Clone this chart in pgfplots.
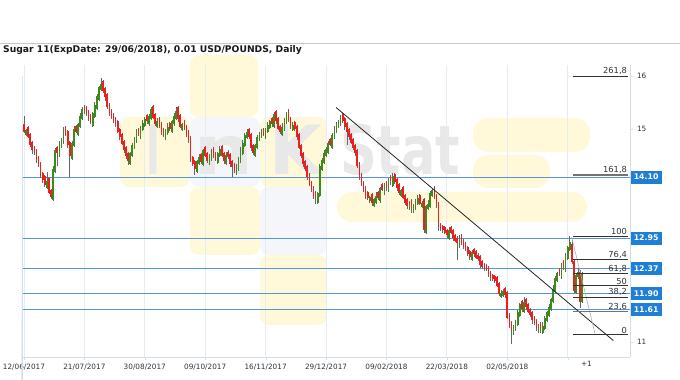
\documentclass[border=0pt]{standalone}
\usepackage{pgfplots}
\pgfplotsset{compat=1.18}
\usepackage{pgfplotstable}
\usepackage{fontspec}
\setmainfont{DejaVu Sans}
\definecolor{upc}{HTML}{3A8C1A}
\definecolor{dnc}{HTML}{F21C1C}
\definecolor{wickc}{HTML}{666666}
\definecolor{lvl}{HTML}{5596DA}
\definecolor{boxc}{HTML}{1F7FD6}
\definecolor{gridc}{HTML}{E4EDF5}
\definecolor{axc}{HTML}{D3DEE8}
\definecolor{wmy}{HTML}{FFF9DA}
\definecolor{wmb}{HTML}{F4F6F9}
\definecolor{wmg}{HTML}{E8E8E8}
\definecolor{fibc}{HTML}{333333}
\definecolor{txtc}{HTML}{333333}
\pgfplotstableread{
i o h l c
0 15.10 15.25 14.92 14.95
1 14.89 15.00 14.87 14.98
2 15.04 15.06 14.83 14.85
3 14.91 14.93 14.66 14.70
4 14.76 14.78 14.54 14.60
5 14.66 14.68 14.52 14.55
6 14.61 14.63 14.37 14.42
7 14.48 14.50 14.28 14.30
8 14.36 14.38 14.08 14.12
9 14.18 14.20 13.99 14.05
10 14.11 14.13 13.92 13.95
11 13.89 14.20 13.87 14.02
12 14.08 14.10 13.78 13.80
13 13.86 13.88 13.68 13.72
14 13.66 14.31 13.64 14.25
15 14.19 14.64 14.17 14.60
16 14.66 14.68 14.30 14.55
17 14.49 14.77 14.47 14.72
18 14.66 14.83 14.64 14.80
19 14.74 15.04 14.72 14.98
20 15.04 15.06 14.87 14.90
21 14.96 14.98 14.65 14.70
22 14.76 14.78 14.10 14.50
23 14.44 14.78 14.42 14.75
24 14.69 15.06 14.67 15.00
25 15.06 15.08 14.92 14.95
26 14.89 15.12 14.87 15.10
27 15.04 15.30 15.02 15.25
28 15.19 15.41 15.17 15.38
29 15.44 15.46 15.29 15.35
30 15.41 15.43 15.25 15.28
31 15.34 15.36 15.15 15.20
32 15.26 15.28 15.10 15.12
33 15.06 15.33 15.04 15.30
34 15.24 15.51 15.22 15.45
35 15.39 15.66 15.37 15.62
36 15.56 15.82 15.54 15.80
37 15.74 15.96 15.72 15.85
38 15.91 15.93 15.68 15.72
39 15.78 15.80 15.54 15.60
40 15.66 15.68 15.39 15.42
41 15.48 15.50 15.25 15.30
42 15.36 15.38 15.20 15.22
43 15.28 15.30 15.11 15.15
44 15.21 15.23 15.04 15.10
45 15.16 15.18 14.92 14.95
46 15.01 15.03 14.80 14.85
47 14.91 14.93 14.70 14.72
48 14.78 14.80 14.56 14.60
49 14.66 14.68 14.44 14.50
50 14.56 14.58 14.32 14.40
51 14.34 14.57 14.32 14.55
52 14.49 14.75 14.47 14.70
53 14.64 14.85 14.62 14.82
54 14.76 15.01 14.74 14.95
55 15.01 15.03 14.87 14.90
56 14.84 15.07 14.82 15.05
57 14.99 15.17 14.97 15.12
58 15.06 15.23 15.04 15.20
59 15.26 15.28 15.09 15.15
60 15.09 15.29 15.07 15.25
61 15.19 15.42 15.17 15.38
62 15.44 15.46 15.20 15.22
63 15.28 15.30 15.06 15.10
64 15.04 15.21 15.02 15.15
65 15.21 15.23 15.02 15.05
66 15.11 15.13 14.90 14.95
67 15.01 15.03 14.86 14.88
68 14.82 15.01 14.80 14.98
69 14.92 15.11 14.90 15.05
70 15.11 15.13 14.97 15.00
71 14.94 15.17 14.92 15.15
72 15.09 15.30 15.07 15.25
73 15.19 15.42 15.17 15.35
74 15.41 15.43 15.14 15.20
75 15.26 15.28 15.02 15.05
76 14.99 15.12 14.97 15.10
77 15.16 15.18 14.98 15.00
78 15.06 15.08 14.86 14.90
79 14.96 14.98 14.74 14.80
80 14.86 14.88 14.39 14.42
81 14.48 14.50 14.30 14.35
82 14.41 14.43 14.13 14.25
83 14.19 14.43 14.17 14.40
84 14.34 14.54 14.32 14.48
85 14.54 14.56 14.35 14.38
86 14.32 14.62 14.30 14.60
87 14.66 14.68 14.48 14.50
88 14.56 14.58 14.36 14.40
89 14.34 14.54 14.32 14.48
90 14.42 14.62 14.40 14.58
91 14.64 14.66 14.45 14.50
92 14.56 14.58 14.40 14.42
93 14.36 14.58 14.34 14.55
94 14.49 14.68 14.47 14.62
95 14.68 14.70 14.47 14.50
96 14.56 14.58 14.35 14.40
97 14.34 14.57 14.32 14.52
98 14.58 14.60 14.44 14.48
99 14.54 14.56 14.29 14.35
100 14.41 14.43 14.10 14.28
101 14.34 14.36 14.17 14.22
102 14.16 14.35 14.14 14.30
103 14.24 14.48 14.22 14.45
104 14.39 14.66 14.37 14.60
105 14.54 14.79 14.52 14.75
106 14.69 14.92 14.67 14.90
107 14.84 15.00 14.82 14.95
108 15.01 15.03 14.81 14.85
109 14.91 14.93 14.59 14.65
110 14.71 14.73 14.52 14.55
111 14.49 14.72 14.47 14.70
112 14.64 14.90 14.62 14.85
113 14.79 14.95 14.77 14.92
114 14.86 15.01 14.84 14.95
115 15.01 15.03 14.87 14.90
116 14.84 15.02 14.82 15.00
117 14.94 15.13 14.92 15.08
118 15.02 15.18 15.00 15.15
119 15.21 15.23 15.04 15.10
120 15.04 15.32 15.02 15.28
121 15.34 15.36 15.10 15.15
122 15.21 15.23 14.98 15.00
123 15.06 15.08 14.91 14.95
124 14.89 15.11 14.87 15.05
125 14.99 15.22 14.97 15.18
126 15.12 15.33 15.10 15.30
127 15.36 15.38 15.13 15.15
128 15.21 15.23 15.01 15.05
129 14.99 15.14 14.97 15.08
130 15.14 15.16 14.97 15.00
131 15.06 15.08 14.80 14.85
132 14.91 14.93 14.63 14.65
133 14.71 14.73 14.46 14.50
134 14.56 14.58 14.29 14.35
135 14.41 14.43 14.22 14.25
136 14.31 14.33 14.05 14.10
137 14.16 14.18 13.93 13.95
138 14.01 14.03 13.81 13.85
139 13.91 13.93 13.69 13.75
140 13.81 13.83 13.60 13.68
141 13.62 13.82 13.60 13.80
142 13.74 14.35 13.72 14.30
143 14.24 14.45 14.22 14.42
144 14.36 14.61 14.34 14.55
145 14.49 14.66 14.47 14.62
146 14.56 14.77 14.54 14.75
147 14.81 14.83 14.68 14.70
148 14.64 14.93 14.62 14.90
149 14.84 15.06 14.82 15.00
150 14.94 15.14 14.92 15.10
151 15.04 15.17 15.02 15.15
152 15.09 15.27 15.07 15.22
153 15.28 15.30 15.11 15.15
154 15.21 15.23 14.99 15.05
155 15.11 15.13 14.70 14.95
156 15.01 15.03 14.80 14.85
157 14.91 14.93 14.73 14.75
158 14.81 14.83 14.61 14.65
159 14.71 14.73 14.49 14.55
160 14.61 14.63 14.27 14.30
161 14.36 14.38 14.05 14.10
162 14.16 14.18 13.93 13.95
163 14.01 14.03 13.81 13.85
164 13.91 13.93 13.69 13.75
165 13.81 13.83 13.67 13.70
166 13.64 13.74 13.62 13.72
167 13.78 13.80 13.56 13.62
168 13.56 13.71 13.54 13.68
169 13.62 13.81 13.60 13.75
170 13.81 13.83 13.67 13.70
171 13.64 13.92 13.62 13.90
172 13.96 13.98 13.83 13.85
173 13.79 13.98 13.77 13.95
174 14.01 14.03 13.84 13.90
175 13.84 14.09 13.82 14.05
176 14.11 14.13 13.95 14.00
177 13.94 14.17 13.92 14.12
178 14.16 14.18 13.96 14.00
179 14.06 14.08 13.84 13.90
180 13.96 13.98 13.77 13.80
181 13.74 13.87 13.72 13.85
182 13.91 13.93 13.68 13.70
183 13.76 13.78 13.58 13.62
184 13.68 13.70 13.49 13.55
185 13.49 13.64 13.47 13.60
186 13.66 13.68 13.43 13.50
187 13.44 13.60 13.42 13.55
188 13.49 13.68 13.47 13.65
189 13.59 13.76 13.57 13.70
190 13.76 13.78 13.57 13.60
191 13.54 13.64 13.52 13.62
192 13.68 13.70 13.04 13.10
193 13.04 13.58 13.02 13.55
194 13.49 13.66 13.47 13.60
195 13.54 13.84 13.52 13.80
196 13.74 13.90 13.72 13.85
197 13.91 13.93 13.68 13.70
198 13.76 13.78 13.51 13.55
199 13.61 13.63 13.08 13.15
200 13.21 13.23 13.09 13.12
201 13.18 13.20 13.05 13.10
202 13.16 13.18 13.03 13.05
203 13.11 13.13 12.96 13.00
204 12.94 13.16 12.92 13.10
205 13.16 13.18 13.02 13.05
206 13.11 13.13 12.90 12.95
207 13.01 13.03 12.88 12.90
208 12.96 12.98 12.54 12.85
209 12.79 13.01 12.77 12.95
210 13.01 13.03 12.82 12.85
211 12.91 12.93 12.75 12.80
212 12.86 12.88 12.70 12.72
213 12.78 12.80 12.61 12.65
214 12.71 12.73 12.54 12.60
215 12.54 12.72 12.52 12.68
216 12.74 12.76 12.60 12.65
217 12.71 12.73 12.56 12.58
218 12.64 12.66 12.51 12.55
219 12.61 12.63 12.39 12.45
220 12.51 12.53 12.37 12.40
221 12.46 12.48 12.33 12.38
222 12.44 12.46 12.33 12.35
223 12.41 12.43 12.21 12.25
224 12.31 12.33 12.14 12.20
225 12.26 12.28 12.15 12.18
226 12.24 12.26 12.10 12.15
227 12.21 12.23 12.03 12.05
228 12.11 12.13 11.86 11.90
229 11.84 11.98 11.82 11.92
230 11.86 11.99 11.84 11.95
231 12.01 12.03 11.83 11.88
232 11.94 11.96 11.43 11.45
233 11.51 11.53 11.26 11.30
234 11.36 11.38 10.95 11.20
235 11.14 11.32 11.12 11.28
236 11.22 11.40 11.20 11.38
237 11.32 11.60 11.30 11.55
238 11.49 11.73 11.47 11.70
239 11.76 11.78 11.56 11.62
240 11.56 11.84 11.54 11.75
241 11.81 11.83 11.60 11.65
242 11.71 11.73 11.53 11.55
243 11.61 11.63 11.46 11.50
244 11.56 11.58 11.34 11.40
245 11.46 11.48 11.32 11.35
246 11.41 11.43 11.20 11.25
247 11.19 11.33 11.17 11.28
248 11.34 11.36 11.16 11.22
249 11.16 11.36 11.14 11.30
250 11.24 11.49 11.22 11.45
251 11.39 11.57 11.37 11.55
252 11.49 11.70 11.47 11.65
253 11.59 11.83 11.57 11.80
254 11.74 12.06 11.72 12.00
255 11.94 12.24 11.92 12.20
256 12.14 12.32 12.12 12.30
257 12.36 12.38 12.23 12.25
258 12.19 12.48 12.17 12.45
259 12.51 12.53 12.34 12.40
260 12.34 12.66 12.32 12.62
261 12.56 12.80 12.54 12.78
262 12.72 12.99 12.70 12.88
263 12.84 12.91 12.46 12.50
264 12.52 12.55 11.91 11.95
265 11.92 12.30 11.90 12.25
266 12.22 12.38 12.18 12.32
267 12.32 12.35 11.63 11.75
268 11.75 12.32 11.72 12.28
}\data
\begin{document}
\begin{tikzpicture}[x=1pt,y=1pt]
\useasboundingbox[fill=white] (0,0) rectangle (680,380);
% header
\draw[black!22, line width=0.8pt] (0,337) -- (680,337);
\node[anchor=west, inner sep=0pt, font=\bfseries\fontsize{9.2}{11}\selectfont, text=black!90] at (3,330) {Sugar 11(ExpDate: 29/06/2018), 0.01 USD/POUNDS, Daily};
% watermark
\begin{scope}[rounded corners=9pt]
\fill[wmy] (190,325) rectangle (258,263);
\fill[wmy] (120,263) rectangle (190,193);
\fill[wmb] (190,263) rectangle (260,193);
\fill[wmy] (260,263) rectangle (327,193);
\fill[wmy] (190,193) rectangle (260,125);
\fill[wmb] (260,193) rectangle (327,125);
\fill[wmy] (260,125) rectangle (327,55);
\end{scope}
\begin{scope}[rounded corners=15pt]
\fill[wmy] (473,262) rectangle (590,228);
\fill[wmy] (473,225) rectangle (550,192);
\fill[wmy] (337,188) rectangle (587,158);
\end{scope}
\begin{scope}[every node/.style={text=wmg, anchor=base, inner sep=0pt, font=\bfseries\fontsize{68}{68}\selectfont}]
\node[xscale=0.55] at (153,205) {I};
\node[xscale=1.25] at (224,205) {n};
\node at (296,205) {K};
\node[xscale=0.75] at (400,205) {Stat};
\end{scope}
\begin{axis}[
  at={(22.7pt,23pt)}, anchor=south west, scale only axis,
  width=607.3pt, height=292pt,
  xmin=-0.6, xmax=290.9, ymin=10.71, ymax=16.21,
  clip=false,
  axis x line*=bottom, axis y line*=right,
  axis line style={draw=axc},
  xtick={0,29,58,87,116,145,174,203,232,261},
  xticklabels={12/06/2017,21/07/2017,30/08/2017,09/10/2017,16/11/2017,29/12/2017,09/02/2018,22/03/2018,02/05/2018,{}},
  extra x ticks={270}, extra x tick labels={+1},
  extra x tick style={grid=none, major tick length=0pt},
  xmajorgrids, grid style={draw=gridc, line width=0.8pt},
  ytick={11,12,13,14,15,16}, yticklabels={11,{},{},{},15,16},
  tick align=outside, major tick length=2.5pt,
  tick style={draw=axc},
  ticklabel style={text=txtc, font=\fontsize{7.3}{8}\selectfont},
  /pgf/number format/assume math mode=true,
  yticklabel style={xshift=1pt},
  xticklabel style={yshift=-1pt},
]
% level lines
\addplot[lvl, line width=0.9pt] coordinates {(-0.6,14.10) (290.9,14.10)};
\addplot[lvl, line width=0.9pt] coordinates {(-0.6,12.95) (290.9,12.95)};
\addplot[lvl, line width=0.9pt] coordinates {(-0.6,12.37) (290.9,12.37)};
\addplot[lvl, line width=0.9pt] coordinates {(-0.6,11.90) (290.9,11.90)};
\addplot[lvl, line width=0.9pt] coordinates {(-0.6,11.61) (290.9,11.61)};
% wicks
\addplot[draw=none, mark=none, forget plot, error bars/.cd, y dir=both, y explicit, error mark=none,
  error bar style={draw=wickc, line width=0.6pt, line cap=butt}]
  table[x=i, y expr={0.5*(\thisrow{h}+\thisrow{l})}, y error expr={0.5*(\thisrow{h}-\thisrow{l})}] {\data};
% up bodies
\addplot[draw=none, mark=none, forget plot, error bars/.cd, y dir=both, y explicit, error mark=none,
  error bar style={draw=upc, line width=1.7pt, line cap=butt}]
  table[x=i, y expr={0.5*(\thisrow{o}+\thisrow{c})}, y error expr={(\thisrow{c} > \thisrow{o}-0.0001)*max(0.5*abs(\thisrow{c}-\thisrow{o}),0.012)}] {\data};
% down bodies
\addplot[draw=none, mark=none, forget plot, error bars/.cd, y dir=both, y explicit, error mark=none,
  error bar style={draw=dnc, line width=1.7pt, line cap=butt}]
  table[x=i, y expr={0.5*(\thisrow{o}+\thisrow{c})}, y error expr={(\thisrow{c} < \thisrow{o}-0.0001)*max(0.5*abs(\thisrow{c}-\thisrow{o}),0.012)}] {\data};
% trend line
\addplot[black!85, line width=0.8pt] coordinates {(149.8,15.41) (282.9,11.02)};
% fib diagonal
\addplot[black!30, line width=0.6pt] coordinates {(262.9,12.97) (274.1,11.15)};
% fib levels
\addplot[fibc, line width=0.8pt] coordinates {(263.5,16.00) (290,16.00)};
\addplot[black!55, line width=1.2pt] coordinates {(263.5,14.14) (290,14.14)};
\addplot[fibc, line width=0.8pt] coordinates {(263.5,12.99) (290,12.99)};
\addplot[fibc, line width=0.8pt] coordinates {(263.5,12.55) (290,12.55)};
\addplot[fibc, line width=0.8pt] coordinates {(263.5,12.28) (290,12.28)};
\addplot[fibc, line width=0.8pt] coordinates {(263.5,12.06) (290,12.06)};
\addplot[fibc, line width=0.8pt] coordinates {(263.5,11.84) (290,11.84)};
\addplot[black!55, line width=1.2pt] coordinates {(263.5,11.57) (290,11.57)};
\addplot[fibc, line width=0.8pt] coordinates {(263.5,11.13) (290,11.13)};
\begin{scope}[every node/.style={anchor=south east, inner sep=1pt, text=txtc, font=\fontsize{8.3}{9}\selectfont}]
\node at (axis cs:290,16.00) {261,8};
\node at (axis cs:290,14.14) {161,8};
\node at (axis cs:290,12.99) {100};
\node at (axis cs:290,12.55) {76,4};
\node at (axis cs:290,12.28) {61,8};
\node at (axis cs:290,12.06) {50};
\node at (axis cs:290,11.84) {38,2};
\node at (axis cs:290,11.57) {23,6};
\node at (axis cs:290,11.13) {0};
\end{scope}
\begin{scope}[every node/.style={anchor=west, fill=boxc, text=white, inner sep=0pt, minimum width=31pt, minimum height=13pt, font=\bfseries\fontsize{7.8}{9}\selectfont}]
\node at (axis cs:291.1,14.10) {14.10};
\node at (axis cs:291.1,12.95) {12.95};
\node at (axis cs:291.1,12.37) {12.37};
\node at (axis cs:291.1,11.90) {11.90};
\node at (axis cs:291.1,11.61) {11.61};
\end{scope}
\draw[axc] (axis cs:-0.6,11) -- ++(-3pt,0);
\draw[axc] (axis cs:-0.6,12) -- ++(-3pt,0);
\draw[axc] (axis cs:-0.6,13) -- ++(-3pt,0);
\draw[axc] (axis cs:-0.6,14) -- ++(-3pt,0);
\draw[axc] (axis cs:-0.6,15) -- ++(-3pt,0);
\draw[axc] (axis cs:-0.6,16) -- ++(-3pt,0);
\end{axis}
\end{tikzpicture}
\end{document}
